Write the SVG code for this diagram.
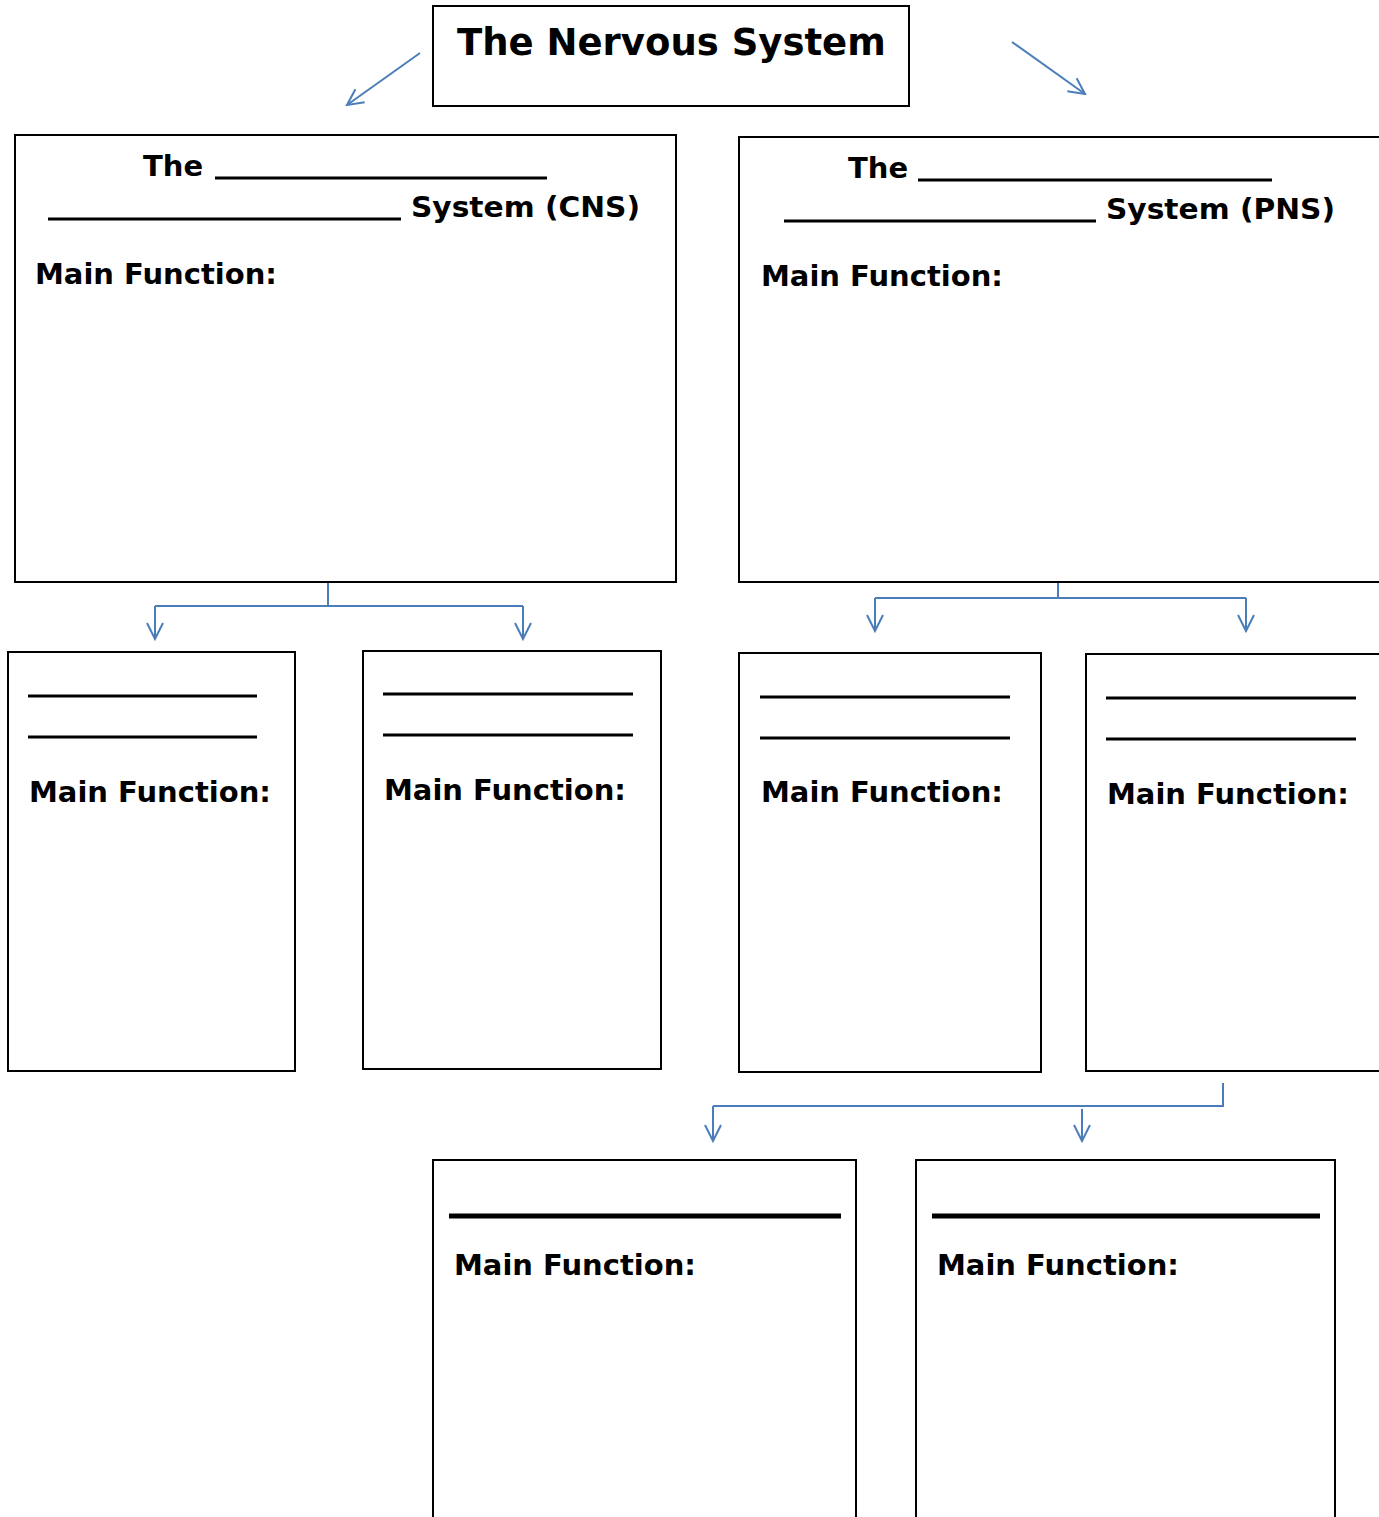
<svg xmlns="http://www.w3.org/2000/svg" width="1379" height="1517" viewBox="0 0 1379 1517">
<style>
.box{fill:#fff;stroke:#000;stroke-width:2}
.t{font-family:"DejaVu Sans","Liberation Sans",sans-serif;font-weight:bold;font-size:29px;fill:#000}
.title{font-size:37px}
.blank{stroke:#000;stroke-width:3}
.thick{stroke:#000;stroke-width:5}
.c{fill:none;stroke:#4A7EBB;stroke-width:2}
</style>
<defs>
<marker id="ah" markerUnits="userSpaceOnUse" markerWidth="20" markerHeight="20" viewBox="0 0 20 20" refX="18" refY="10" orient="auto">
<path d="M2,2 L18,10 L2,18" fill="none" stroke="#4A7EBB" stroke-width="2"/>
</marker>
</defs>
<rect width="1379" height="1517" fill="#fff"/>
<g id="connectors">
<line class="c" x1="420" y1="53" x2="347" y2="105" marker-end="url(#ah)"/>
<line class="c" x1="1012" y1="42" x2="1085" y2="94" marker-end="url(#ah)"/>
<path class="c" d="M328,583 V606 M155,606 H523"/>
<line class="c" x1="155" y1="606" x2="155" y2="639" marker-end="url(#ah)"/>
<line class="c" x1="523" y1="606" x2="523" y2="639" marker-end="url(#ah)"/>
<path class="c" d="M1058,583 V598 M875,598 H1246"/>
<line class="c" x1="875" y1="598" x2="875" y2="631" marker-end="url(#ah)"/>
<line class="c" x1="1246" y1="598" x2="1246" y2="631" marker-end="url(#ah)"/>
<path class="c" d="M1223,1083 V1106 H713"/>
<line class="c" x1="713" y1="1106" x2="713" y2="1141" marker-end="url(#ah)"/>
<line class="c" x1="1082" y1="1109" x2="1082" y2="1141" marker-end="url(#ah)"/>
</g>
<g id="title">
<rect class="box" x="433" y="6" width="476" height="100"/>
<text class="t title" x="457" y="55">The Nervous System</text>
</g>
<g id="cns">
<rect class="box" x="15" y="135" width="661" height="447"/>
<text class="t" x="143" y="176">The</text>
<line class="blank" x1="215" y1="178" x2="547" y2="178"/>
<line class="blank" x1="48" y1="219" x2="401" y2="219"/>
<text class="t" x="411" y="217" textLength="229" lengthAdjust="spacingAndGlyphs">System (CNS)</text>
<text class="t" x="35" y="284">Main Function:</text>
</g>
<g id="pns">
<rect class="box" x="739" y="137" width="660" height="445"/>
<text class="t" x="848" y="178">The</text>
<line class="blank" x1="918" y1="180" x2="1272" y2="180"/>
<line class="blank" x1="784" y1="221" x2="1096" y2="221"/>
<text class="t" x="1106" y="219" textLength="229" lengthAdjust="spacingAndGlyphs">System (PNS)</text>
<text class="t" x="761" y="286">Main Function:</text>
</g>
<g id="cns-a">
<rect class="box" x="8" y="652" width="287" height="419"/>
<line class="blank" x1="28" y1="696" x2="257" y2="696"/>
<line class="blank" x1="28" y1="737" x2="257" y2="737"/>
<text class="t" x="29" y="802">Main Function:</text>
</g>
<g id="cns-b">
<rect class="box" x="363" y="651" width="298" height="418"/>
<line class="blank" x1="383" y1="694" x2="633" y2="694"/>
<line class="blank" x1="383" y1="735" x2="633" y2="735"/>
<text class="t" x="384" y="800">Main Function:</text>
</g>
<g id="pns-a">
<rect class="box" x="739" y="653" width="302" height="419"/>
<line class="blank" x1="760" y1="697" x2="1010" y2="697"/>
<line class="blank" x1="760" y1="738" x2="1010" y2="738"/>
<text class="t" x="761" y="802">Main Function:</text>
</g>
<g id="pns-b">
<rect class="box" x="1086" y="654" width="313" height="417"/>
<line class="blank" x1="1106" y1="698" x2="1356" y2="698"/>
<line class="blank" x1="1106" y1="739" x2="1356" y2="739"/>
<text class="t" x="1107" y="804">Main Function:</text>
</g>
<g id="sub-a">
<rect class="box" x="433" y="1160" width="423" height="380"/>
<line class="thick" x1="449" y1="1216" x2="841" y2="1216"/>
<text class="t" x="454" y="1275">Main Function:</text>
</g>
<g id="sub-b">
<rect class="box" x="916" y="1160" width="419" height="380"/>
<line class="thick" x1="932" y1="1216" x2="1320" y2="1216"/>
<text class="t" x="937" y="1275">Main Function:</text>
</g>
</svg>
